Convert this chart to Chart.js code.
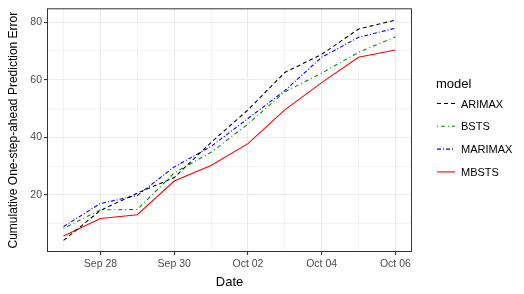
<!DOCTYPE html>
<html>
<head>
<meta charset="utf-8">
<script src="https://cdn.jsdelivr.net/npm/chart.js@4.4.0/dist/chart.umd.min.js"></script>
<style>
  html, body { margin: 0; padding: 0; background: #fff; }
</style>
</head>
<body>
<canvas id="chart" width="524" height="294"></canvas>
<script>
// dates, one point per day
var days = ['Sep 27', 'Sep 28', 'Sep 29', 'Sep 30', 'Oct 01', 'Oct 02', 'Oct 03', 'Oct 04', 'Oct 05', 'Oct 06'];
var xTickLabels = ['', 'Sep 28', '', 'Sep 30', '', 'Oct 02', '', 'Oct 04', '', 'Oct 06'];
var yTicks = [10, 20, 30, 40, 50, 60, 70, 80];
var yTickLabels = ['', '20', '', '40', '', '60', '', '80'];

var arimax  = [4.2, 14.6, 20.6, 26.0, 38.2, 49.5, 62.5, 68.8, 77.6, 80.7];
var bsts    = [8.4, 14.8, 14.9, 27.6, 34.8, 44.6, 55.8, 62.3, 69.5, 74.9];
var marimax = [9.0, 17.0, 19.8, 29.7, 36.8, 46.5, 56.2, 67.8, 74.7, 77.9];
var mbsts   = [5.7, 11.8, 13.1, 24.8, 30.2, 37.8, 49.5, 59.0, 67.8, 70.3];

function pts(arr) {
    return arr.map(function(v, i) { return {x: i, y: v}; });
}

var FONT = "'Liberation Sans', Arial, sans-serif";

// panel border + legend, drawn after the chart
var panelPlugin = {
    id: 'panel',
    afterDraw: function(chart) {
        var ctx = chart.ctx;
        var a = chart.chartArea;
        ctx.save();
        ctx.strokeStyle = '#333333';
        ctx.lineWidth = 1;
        ctx.strokeRect(a.left + 0.5, a.top + 0.5, a.right - a.left - 1, a.bottom - a.top - 1);

        // legend
        var lx = a.right + 25;
        ctx.fillStyle = '#000';
        ctx.font = '13px ' + FONT;
        ctx.textBaseline = 'middle';
        ctx.fillText('model', lx - 1, 84);
        chart.data.datasets.forEach(function(ds, i) {
            var y = 103.5 + i * 22.8;
            ctx.beginPath();
            ctx.setLineDash(ds.borderDash || []);
            ctx.strokeStyle = ds.borderColor;
            ctx.lineWidth = 1.1;
            ctx.moveTo(lx, y);
            ctx.lineTo(lx + 18, y);
            ctx.stroke();
            ctx.setLineDash([]);
            ctx.fillStyle = '#000';
            ctx.font = '11px ' + FONT;
            ctx.fillText(ds.label, lx + 24, y + 1);
        });
        ctx.restore();
    }
};

var ctx = document.getElementById('chart').getContext('2d');
var myChart = new Chart(ctx, {
    type: 'line',
    data: {
        datasets: [
            {
                label: 'ARIMAX',
                data: pts(arimax),
                borderColor: '#000000',
                borderDash: [4, 3]
            },
            {
                label: 'BSTS',
                data: pts(bsts),
                borderColor: '#008B00',
                borderDash: [1, 3, 4, 3]
            },
            {
                label: 'MARIMAX',
                data: pts(marimax),
                borderColor: '#0000FF',
                borderDash: [4, 2, 1, 2]
            },
            {
                label: 'MBSTS',
                data: pts(mbsts),
                borderColor: '#FF0000',
                borderDash: []
            }
        ]
    },
    options: {
        responsive: false,
        animation: false,
        devicePixelRatio: 1,
        datasets: {
            line: {
                borderWidth: 1.1,
                pointRadius: 0,
                tension: 0,
                fill: false
            }
        },
        layout: {
            padding: {left: 0, right: 112, top: 7, bottom: 0}
        },
        plugins: {
            legend: {display: false},
            tooltip: {enabled: false}
        },
        scales: {
            x: {
                type: 'linear',
                min: -0.45,
                max: 9.45,
                afterBuildTicks: function(scale) {
                    scale.ticks = days.map(function(d, i) { return {value: i}; });
                },
                afterFit: function(scale) { scale.height = 42; },
                border: {display: false},
                grid: {
                    color: '#EBEBEB',
                    lineWidth: function(c) { return c.index % 2 === 1 ? 1.1 : 0.6; },
                    tickColor: function(c) { return c.index % 2 === 1 ? '#333333' : 'rgba(0,0,0,0)'; },
                    tickLength: 3
                },
                ticks: {
                    autoSkip: false,
                    maxRotation: 0,
                    padding: 3,
                    color: '#4D4D4D',
                    font: {family: FONT, size: 10.5},
                    callback: function(v, i) { return xTickLabels[i]; }
                },
                title: {
                    display: true,
                    text: 'Date',
                    color: '#000',
                    font: {family: FONT, size: 13},
                    padding: {top: 0, bottom: 4}
                }
            },
            y: {
                type: 'linear',
                min: 0.15,
                max: 84.8,
                afterBuildTicks: function(scale) {
                    scale.ticks = yTicks.map(function(v) { return {value: v}; });
                },
                afterFit: function(scale) { scale.width = 47; },
                border: {display: false},
                grid: {
                    color: '#EBEBEB',
                    lineWidth: function(c) { return c.index % 2 === 1 ? 1.1 : 0.6; },
                    tickColor: function(c) { return c.index % 2 === 1 ? '#333333' : 'rgba(0,0,0,0)'; },
                    tickLength: 3
                },
                ticks: {
                    autoSkip: false,
                    padding: 2,
                    color: '#4D4D4D',
                    font: {family: FONT, size: 10.5},
                    callback: function(v, i) { return yTickLabels[i]; }
                },
                title: {
                    display: true,
                    text: 'Cumulative One-step-ahead Prediction Error',
                    color: '#000',
                    font: {family: FONT, size: 12},
                    padding: {top: 6, bottom: 0}
                }
            }
        }
    },
    plugins: [panelPlugin]
});
</script>
</body>
</html>
